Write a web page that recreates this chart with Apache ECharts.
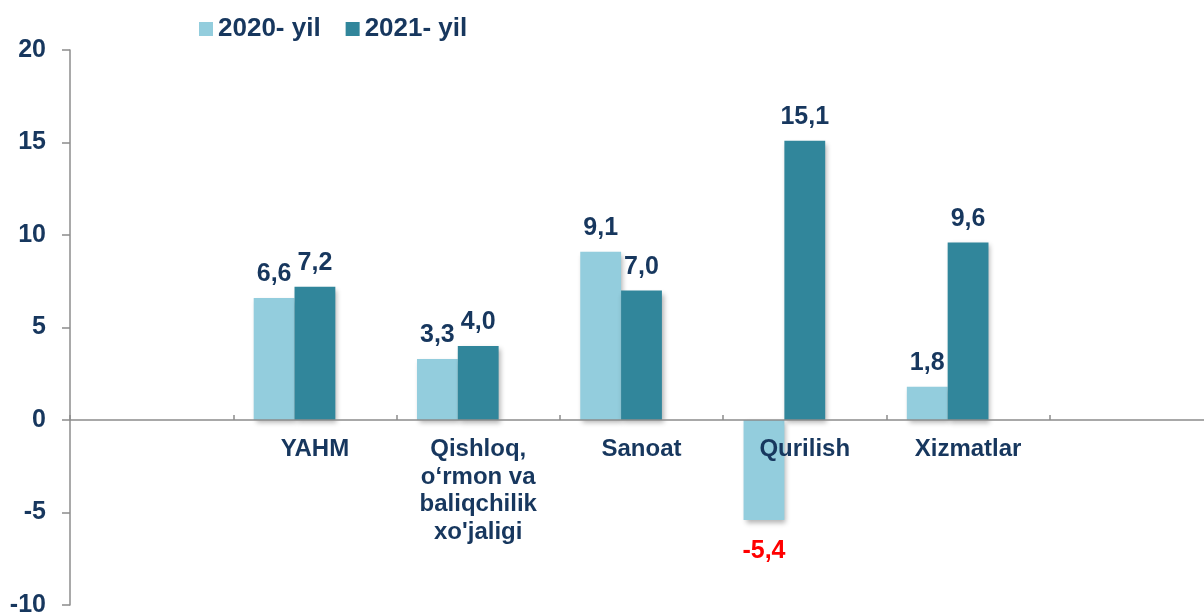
<!DOCTYPE html>
<html>
<head>
<meta charset="utf-8">
<script src="https://cdn.jsdelivr.net/npm/echarts@6/dist/echarts.min.js"></script>
<style>
html,body{margin:0;padding:0;background:#fff;}
#c{width:1204px;height:616px;}
</style>
</head>
<body>
<div id="c"></div>
<script>
const categories = ['', 'YAHM', 'Qishloq,\no\u2018rmon va\nbaliqchilik\nxo\'jaligi', 'Sanoat', 'Qurilish', 'Xizmatlar', ''];
const seriesNames = ['2020- yil', '2021- yil'];
const values2020 = [null, 6.6, 3.3, 9.1, -5.4, 1.8, null];
const values2021 = [null, 7.2, 4.0, 7.0, 15.1, 9.6, null];
const spacer = [null, null, null, null, null, null, null];
const yTicks = { min: -10, max: 20, interval: 5 };

const navy = '#17375E';
const font = 'Liberation Sans, Arial, sans-serif';
const fmt = v => v.toFixed(1).replace('.', ',');

const gridTop = 50, gridBottom = 11, chartH = 616;
const plotH = chartH - gridTop - gridBottom;
const zeroOffset = -plotH * (0 - yTicks.min) / (yTicks.max - yTicks.min);

function buildData(arr) {
  return arr.map(v => {
    if (v === null) return null;
    if (v < 0) {
      return { value: v, label: { position: 'bottom', distance: 19, color: '#FF0000' } };
    }
    return v;
  });
}

const labelBase = {
  show: true,
  position: 'top',
  distance: 11,
  fontFamily: font,
  fontWeight: 'bold',
  fontSize: 25,
  color: navy,
  formatter: p => fmt(p.value)
};
const shadow = { shadowColor: 'rgba(0,0,0,0.3)', shadowBlur: 5, shadowOffsetX: 2, shadowOffsetY: 3 };

const chart = echarts.init(document.getElementById('c'));
chart.setOption({
  animation: false,
  backgroundColor: '#fff',
  legend: {
    data: seriesNames,
    left: 199,
    top: 16,
    padding: 0,
    itemWidth: 14,
    itemHeight: 14,
    itemGap: 25,
    icon: 'rect',
    textStyle: { fontFamily: font, fontWeight: 'bold', fontSize: 26, color: navy, padding: [0, 0, 0, 0] }
  },
  grid: { left: 70, top: gridTop, width: 1143, bottom: gridBottom, containLabel: false, outerBoundsMode: 'none' },
  xAxis: {
    type: 'category',
    data: categories,
    offset: zeroOffset,
    z: 5,
    axisLine: { onZero: false, lineStyle: { color: '#8C8C8C', width: 1.5 } },
    axisTick: { show: true, inside: true, length: 5, alignWithLabel: false, interval: 0, lineStyle: { color: '#8C8C8C', width: 1.5 } },
    axisLabel: {
      show: true, interval: 0, hideOverlap: false, margin: 16, fontFamily: font, fontWeight: 'bold', fontSize: 24,
      lineHeight: 27.5, color: navy
    },
    splitLine: { show: false }
  },
  yAxis: {
    type: 'value',
    min: yTicks.min, max: yTicks.max, interval: yTicks.interval,
    axisLine: { show: true, lineStyle: { color: '#8C8C8C', width: 1.5 } },
    axisTick: { show: true, inside: false, length: 8, lineStyle: { color: '#8C8C8C', width: 1.5 } },
    axisLabel: { margin: 24, fontFamily: font, fontWeight: 'bold', fontSize: 25, color: navy },
    splitLine: { show: false }
  },
  series: [
    {
      name: seriesNames[0], type: 'bar', data: buildData(values2020),
      barGap: '0%', barCategoryGap: '25%',
      itemStyle: Object.assign({ color: '#93CDDD' }, shadow),
      label: labelBase
    },
    {
      name: seriesNames[1], type: 'bar', data: buildData(values2021),
      barGap: '0%', barCategoryGap: '25%',
      itemStyle: Object.assign({ color: '#31869B' }, shadow),
      label: labelBase
    },
    {
      name: 'spacer', type: 'bar', data: spacer,
      barGap: '0%', barCategoryGap: '25%',
      itemStyle: { color: 'transparent' }
    }
  ]
});
</script>
</body>
</html>
